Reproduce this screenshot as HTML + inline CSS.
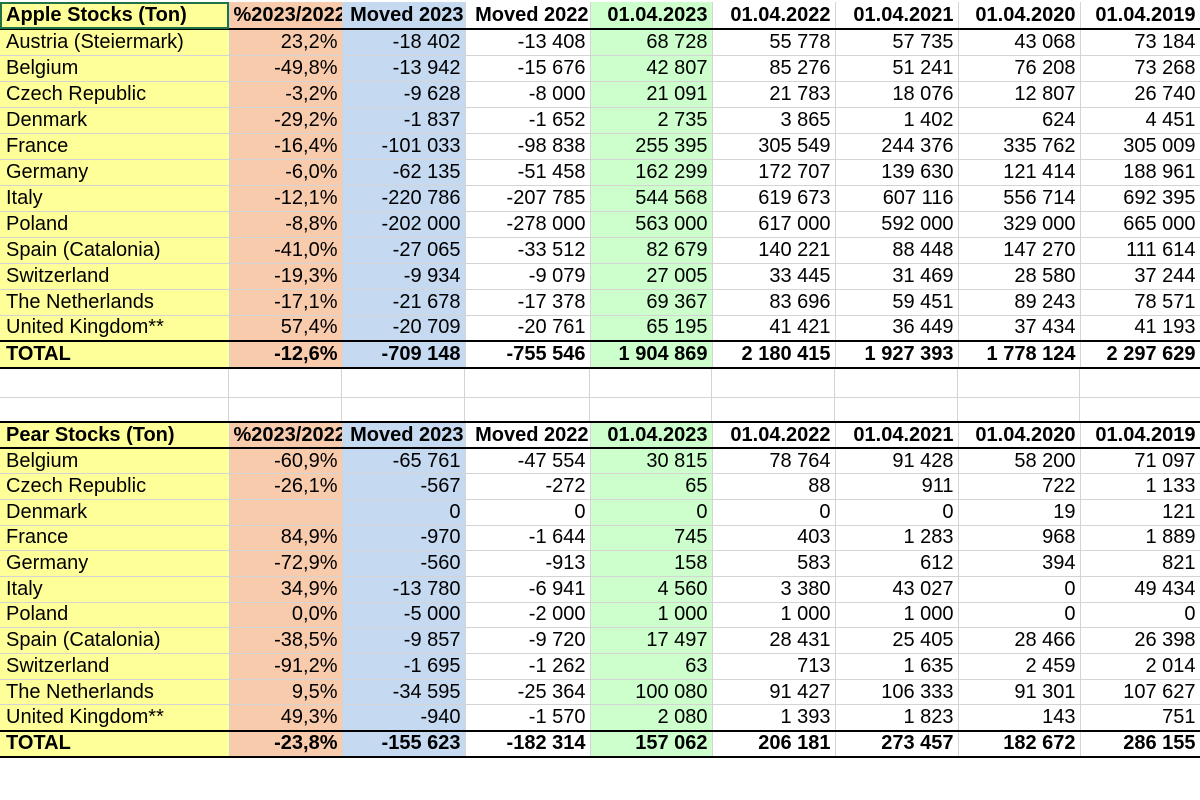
<!DOCTYPE html>
<html><head><meta charset="utf-8"><style>
body{margin:0;width:1200px;height:800px;background:#fff;position:relative;overflow:hidden;font-family:"Liberation Sans",Arial,sans-serif;}
table{position:absolute;left:0;border-collapse:collapse;table-layout:fixed;font-size:20px;color:#000;}
td{border-right:1px solid #d4d4d4;border-bottom:1px solid #d4d4d4;padding:0 4px 0 3px;text-align:right;white-space:nowrap;overflow:hidden;line-height:21px;}
td:nth-child(1){background:#ffff99;text-align:left;padding-left:6px;}
td:nth-child(2){background:#f8cbad;}
td:nth-child(3){background:#c5d9f1;}
td:nth-child(5){background:#ccffcc;}
tr.h td{font-weight:bold;border-bottom:2px solid #000;}
tr.h td:nth-child(2){text-align:left;text-overflow:clip;padding-left:4px;padding-right:0;}
tr.h td:nth-child(3),tr.h td:nth-child(4){padding-left:0;padding-right:1px;}
tr.t td{font-weight:bold;border-top:2px solid #000;border-bottom:2px solid #000;}
.a tr{height:26px}
.a tr.h{height:27px}
.a tr.t{height:27px}
.p tr{height:25.7px}
.p tr.h{height:26px}
.p tr.t{height:26px}
.p tr.h td{border-top:2px solid #000}
.blank{position:absolute;left:0;top:369px;width:1200px;height:52px;}
.blank div{position:absolute;top:0;height:52px;border-right:1px solid #d4d4d4;}
</style></head><body>
<div class="blank">
<div style="left:0;width:228px"></div><div style="left:229px;width:112px"></div><div style="left:342px;width:122px"></div><div style="left:465px;width:124px"></div><div style="left:590px;width:121px"></div><div style="left:712px;width:122px"></div><div style="left:835px;width:122px"></div><div style="left:958px;width:121px"></div>
<div style="left:0;width:1200px;top:28px;height:0;border-top:1px solid #d4d4d4;border-right:none"></div>
</div>
<table class="a" style="top:2px;width:1200px">
<colgroup><col style="width:229px"><col style="width:113px"><col style="width:123px"><col style="width:125px"><col style="width:122px"><col style="width:123px"><col style="width:123px"><col style="width:122px"><col style="width:120px"></colgroup>
<tr class="h"><td style="outline:2px solid #217346;outline-offset:-2px">Apple Stocks (Ton)</td><td>%2023/2022</td><td>Moved 2023</td><td>Moved 2022</td><td>01.04.2023</td><td>01.04.2022</td><td>01.04.2021</td><td>01.04.2020</td><td>01.04.2019</td></tr>
<tr><td>Austria (Steiermark)</td><td>23,2%</td><td>-18 402</td><td>-13 408</td><td>68 728</td><td>55 778</td><td>57 735</td><td>43 068</td><td>73 184</td></tr>
<tr><td>Belgium</td><td>-49,8%</td><td>-13 942</td><td>-15 676</td><td>42 807</td><td>85 276</td><td>51 241</td><td>76 208</td><td>73 268</td></tr>
<tr><td>Czech Republic</td><td>-3,2%</td><td>-9 628</td><td>-8 000</td><td>21 091</td><td>21 783</td><td>18 076</td><td>12 807</td><td>26 740</td></tr>
<tr><td>Denmark</td><td>-29,2%</td><td>-1 837</td><td>-1 652</td><td>2 735</td><td>3 865</td><td>1 402</td><td>624</td><td>4 451</td></tr>
<tr><td>France</td><td>-16,4%</td><td>-101 033</td><td>-98 838</td><td>255 395</td><td>305 549</td><td>244 376</td><td>335 762</td><td>305 009</td></tr>
<tr><td>Germany</td><td>-6,0%</td><td>-62 135</td><td>-51 458</td><td>162 299</td><td>172 707</td><td>139 630</td><td>121 414</td><td>188 961</td></tr>
<tr><td>Italy</td><td>-12,1%</td><td>-220 786</td><td>-207 785</td><td>544 568</td><td>619 673</td><td>607 116</td><td>556 714</td><td>692 395</td></tr>
<tr><td>Poland</td><td>-8,8%</td><td>-202 000</td><td>-278 000</td><td>563 000</td><td>617 000</td><td>592 000</td><td>329 000</td><td>665 000</td></tr>
<tr><td>Spain (Catalonia)</td><td>-41,0%</td><td>-27 065</td><td>-33 512</td><td>82 679</td><td>140 221</td><td>88 448</td><td>147 270</td><td>111 614</td></tr>
<tr><td>Switzerland</td><td>-19,3%</td><td>-9 934</td><td>-9 079</td><td>27 005</td><td>33 445</td><td>31 469</td><td>28 580</td><td>37 244</td></tr>
<tr><td>The Netherlands</td><td>-17,1%</td><td>-21 678</td><td>-17 378</td><td>69 367</td><td>83 696</td><td>59 451</td><td>89 243</td><td>78 571</td></tr>
<tr><td>United Kingdom**</td><td>57,4%</td><td>-20 709</td><td>-20 761</td><td>65 195</td><td>41 421</td><td>36 449</td><td>37 434</td><td>41 193</td></tr>
<tr class="t"><td>TOTAL</td><td>-12,6%</td><td>-709 148</td><td>-755 546</td><td>1 904 869</td><td>2 180 415</td><td>1 927 393</td><td>1 778 124</td><td>2 297 629</td></tr>
</table>
<table class="p" style="top:421px;width:1200px">
<colgroup><col style="width:229px"><col style="width:113px"><col style="width:123px"><col style="width:125px"><col style="width:122px"><col style="width:123px"><col style="width:123px"><col style="width:122px"><col style="width:120px"></colgroup>
<tr class="h"><td>Pear Stocks (Ton)</td><td>%2023/2022</td><td>Moved 2023</td><td>Moved 2022</td><td>01.04.2023</td><td>01.04.2022</td><td>01.04.2021</td><td>01.04.2020</td><td>01.04.2019</td></tr>
<tr><td>Belgium</td><td>-60,9%</td><td>-65 761</td><td>-47 554</td><td>30 815</td><td>78 764</td><td>91 428</td><td>58 200</td><td>71 097</td></tr>
<tr><td>Czech Republic</td><td>-26,1%</td><td>-567</td><td>-272</td><td>65</td><td>88</td><td>911</td><td>722</td><td>1 133</td></tr>
<tr><td>Denmark</td><td></td><td>0</td><td>0</td><td>0</td><td>0</td><td>0</td><td>19</td><td>121</td></tr>
<tr><td>France</td><td>84,9%</td><td>-970</td><td>-1 644</td><td>745</td><td>403</td><td>1 283</td><td>968</td><td>1 889</td></tr>
<tr><td>Germany</td><td>-72,9%</td><td>-560</td><td>-913</td><td>158</td><td>583</td><td>612</td><td>394</td><td>821</td></tr>
<tr><td>Italy</td><td>34,9%</td><td>-13 780</td><td>-6 941</td><td>4 560</td><td>3 380</td><td>43 027</td><td>0</td><td>49 434</td></tr>
<tr><td>Poland</td><td>0,0%</td><td>-5 000</td><td>-2 000</td><td>1 000</td><td>1 000</td><td>1 000</td><td>0</td><td>0</td></tr>
<tr><td>Spain (Catalonia)</td><td>-38,5%</td><td>-9 857</td><td>-9 720</td><td>17 497</td><td>28 431</td><td>25 405</td><td>28 466</td><td>26 398</td></tr>
<tr><td>Switzerland</td><td>-91,2%</td><td>-1 695</td><td>-1 262</td><td>63</td><td>713</td><td>1 635</td><td>2 459</td><td>2 014</td></tr>
<tr><td>The Netherlands</td><td>9,5%</td><td>-34 595</td><td>-25 364</td><td>100 080</td><td>91 427</td><td>106 333</td><td>91 301</td><td>107 627</td></tr>
<tr><td>United Kingdom**</td><td>49,3%</td><td>-940</td><td>-1 570</td><td>2 080</td><td>1 393</td><td>1 823</td><td>143</td><td>751</td></tr>
<tr class="t"><td>TOTAL</td><td>-23,8%</td><td>-155 623</td><td>-182 314</td><td>157 062</td><td>206 181</td><td>273 457</td><td>182 672</td><td>286 155</td></tr>
</table>
</body></html>
